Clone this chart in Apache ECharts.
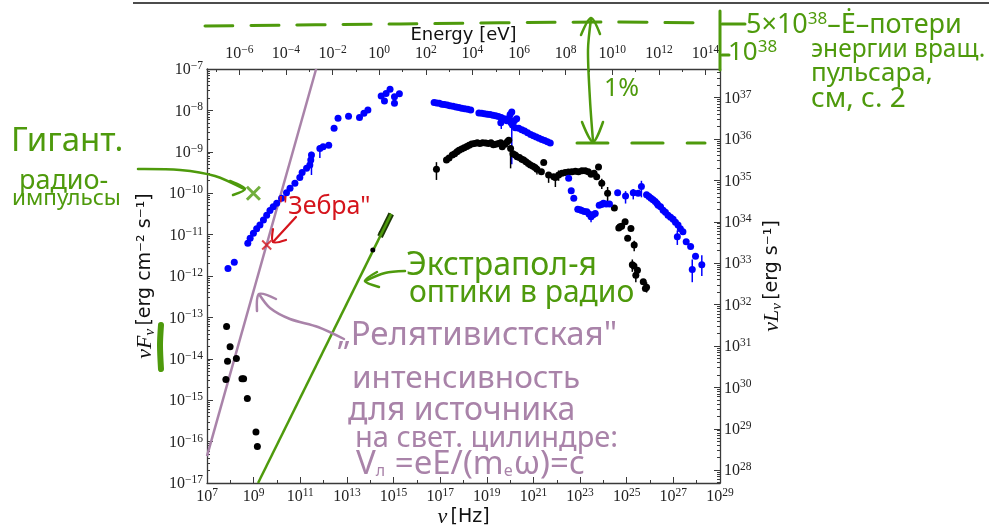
<!DOCTYPE html>
<html>
<head>
<meta charset="utf-8">
<script src="https://cdn.jsdelivr.net/npm/echarts@6.0.0/dist/echarts.min.js"></script>
<style>
  html, body { margin: 0; padding: 0; background: #fff; }
  #chart { width: 989px; height: 530px; }
</style>
</head>
<body>
<div id="chart"></div>
<script>
// all values are log10: nu in Hz, nuFnu in erg cm^-2 s^-1
const LOG_H_EV = Math.log10(4.1357e-15);  // E = h*nu, eV
const LOG_4PI_D2 = 44.69;                 // nuLnu = 4 pi d^2 nuFnu

// radio (black)
const radioNu = [7.84, 7.99, 7.88, 8.26, 7.81, 8.50, 8.57, 8.73, 9.10, 9.16];
const radioF  = [-13.22, -13.71, -14.06, -13.99, -14.50, -14.48, -14.48, -14.96, -15.77, -16.12];

// radio..UV (blue)
const optNu = [7.90, 8.17, 8.75, 8.85, 8.99, 9.13, 9.27, 9.42, 9.56, 9.70, 9.84, 9.99, 10.20, 10.41,
  10.56, 10.77, 10.98, 11.08, 11.27, 11.41, 11.45, 11.48, 11.84, 11.98, 12.22, 12.45, 12.62, 13.07,
  13.54, 13.73, 13.90, 14.47, 14.68, 14.85, 14.61, 15.04, 15.25, 15.04];
const optF = [-11.82, -11.67, -11.21, -11.09, -10.97, -10.86, -10.77, -10.65, -10.53, -10.42, -10.33,
  -10.24, -10.12, -9.99, -9.88, -9.76, -9.62, -9.50, -9.40, -9.32, -9.20, -9.08, -8.92, -8.88, -8.84,
  -8.43, -8.19, -8.14, -8.17, -8.07, -7.99, -7.65, -7.59, -7.49, -7.77, -7.83, -7.60, -7.67];

// X-ray, pulsed (blue)
const xBlueNu = [16.74, 16.85, 16.96, 17.07, 17.18, 17.30, 17.42, 17.55, 17.68, 17.80, 17.92, 18.05,
  18.18, 18.31, 18.66, 18.78, 18.90, 19.02, 19.14, 19.26, 19.38, 19.50, 19.60, 19.62, 19.74, 19.86,
  19.94, 20.00, 20.07, 20.04, 20.10, 20.18, 20.22, 20.28, 20.37, 20.50, 20.62, 20.75, 20.88, 21.00,
  21.12, 21.24, 21.36, 21.48, 21.60, 21.72];
const xBlueF = [-7.81, -7.82, -7.83, -7.85, -7.86, -7.87, -7.89, -7.90, -7.92, -7.93, -7.95, -7.96,
  -7.97, -7.99, -8.06, -8.07, -8.08, -8.09, -8.10, -8.12, -8.13, -8.15, -8.30, -8.17, -8.20, -8.25,
  -8.19, -8.10, -8.04, -8.30, -8.35, -8.25, -8.42, -8.20, -8.43, -8.47, -8.50, -8.54, -8.58, -8.61,
  -8.64, -8.67, -8.70, -8.73, -8.76, -8.79];

// X-ray to TeV (black)
const hiBlackNu = [16.84, 17.27, 17.38, 17.52, 17.62, 17.72, 17.81, 17.92, 18.03, 18.14, 18.24, 18.35,
  18.47, 18.59, 18.70, 18.82, 18.95, 19.07, 19.18, 19.28, 19.38, 19.50, 19.60, 19.66, 19.78, 19.88,
  19.94, 20.02, 20.12, 20.22, 20.30, 20.40, 20.50, 20.58, 20.68, 20.78, 20.87, 20.98, 21.07, 21.15,
  21.34, 21.44, 21.65, 21.87, 21.94, 22.08, 22.22, 22.36, 22.50, 22.65, 22.80, 22.93, 23.08, 23.22,
  23.35, 23.47, 23.60, 23.71, 23.79, 23.93, 24.18, 24.47, 24.66, 24.71, 24.78, 24.93, 25.04, 25.18,
  25.32, 25.24, 25.31, 25.46, 25.39, 25.71, 25.85, 25.80];
const hiBlackF = [-9.42, -9.20, -9.15, -9.08, -9.05, -9.00, -8.96, -8.93, -8.90, -8.87, -8.84, -8.81,
  -8.80, -8.78, -8.80, -8.78, -8.79, -8.80, -8.78, -8.83, -8.82, -8.80, -8.78, -8.88, -8.82, -8.76,
  -8.72, -8.92, -9.05, -9.08, -9.12, -9.14, -9.18, -9.20, -9.24, -9.28, -9.32, -9.35, -9.38, -9.42,
  -9.48, -9.26, -9.56, -9.60, -9.62, -9.56, -9.52, -9.50, -9.49, -9.48, -9.47, -9.48, -9.46, -9.46,
  -9.48, -9.54, -9.52, -9.60, -9.37, -9.76, -10.00, -10.36, -10.84, -10.81, -10.80, -10.69, -11.09,
  -10.85, -11.25, -11.73, -11.76, -11.86, -11.98, -12.14, -12.27, -12.30];

// gamma, pulsed (blue)
const gBlueNu = [22.51, 22.62, 22.73, 22.90, 23.00, 23.07, 23.18, 23.29, 23.38, 23.47, 23.56, 23.65,
  23.82, 23.92, 24.00, 24.12, 24.26, 24.61, 24.95, 25.28, 25.49, 25.63, 25.85, 25.95, 26.04, 26.13,
  26.22, 26.30, 26.35, 26.45, 26.56, 26.66, 26.77, 26.88, 26.99, 27.09, 27.20, 27.17, 27.30, 27.41,
  27.55, 27.74, 27.95, 27.81, 28.22];
const gBlueF = [-9.64, -9.94, -10.12, -10.39, -10.40, -10.42, -10.44, -10.45, -10.50, -10.57, -10.52,
  -10.49, -10.29, -10.27, -10.24, -10.26, -10.26, -9.99, -10.07, -9.99, -10.00, -9.84, -10.04, -10.08,
  -10.12, -10.16, -10.20, -10.25, -10.29, -10.33, -10.41, -10.46, -10.53, -10.58, -10.63, -10.70,
  -10.77, -11.05, -10.86, -10.93, -11.17, -11.29, -11.52, -11.84, -11.73];

// error bars: nu, low, high
const errBlueNu = [11.48, 11.84, 19.62, 20.07, 23.47, 24.95, 25.28, 25.63, 27.17, 27.81, 28.22];
const errBlueLo = [-9.56, -9.15, -8.45, -9.30, -10.70, -10.25, -10.15, -10.10, -11.25, -12.15, -12.00];
const errBlueHi = [-9.00, -8.84, -8.20, -8.00, -10.45, -9.95, -9.90, -9.70, -10.90, -11.60, -11.50];
const errBlackNu = [16.84, 20.02, 21.15, 21.65, 21.94, 22.08, 23.93, 24.18, 25.24, 25.32, 25.39, 25.85];
const errBlackLo = [-9.68, -9.40, -9.55, -9.75, -9.85, -9.70, -9.90, -10.20, -11.90, -11.40, -12.15, -12.40];
const errBlackHi = [-9.25, -8.85, -9.35, -9.50, -9.55, -9.45, -9.65, -9.85, -11.60, -11.15, -11.85, -12.15];

// ν² "relativistic intensity" line, optical extrapolation to radio, optical segment
const relNu = [7.0, 11.68];
const relF = [-16.35, -7.0];
const extrNu = [9.19, 14.90];
const extrF = [-17.0, -10.50];
const optSegNu = [14.42, 14.90];
const optSegF = [-11.05, -10.50];
const optDotNu = [14.11, 14.47];
const optDotF = [-11.37, -10.96];

// hand marks: giant radio pulses, "zebra"
const giantNu = [8.99], giantF = [-10.0];
const zebraNu = [9.56], zebraF = [-11.25];

const nuTicks = [7, 9, 11, 13, 15, 17, 19, 21, 23, 25, 27, 29];
const eTicks = [-6, -4, -2, 0, 2, 4, 6, 8, 10, 12, 14];
const fTicks = [-17, -16, -15, -14, -13, -12, -11, -10, -9, -8, -7];
const lTicks = [28, 29, 30, 31, 32, 33, 34, 35, 36, 37];

const zip = (a, b) => a.map((v, i) => [v, b[i]]);
const range = (a, b) => { const r = []; for (let i = a; i <= b; i++) r.push(i); return r; };
const minorLog = (a, b, lo, hi) => {
  const r = [];
  for (let n = a; n <= b; n++) for (let k = 2; k <= 9; k++) {
    const v = n + Math.log10(k);
    if (v > lo && v < hi) r.push(v);
  }
  return r;
};

const AX = '#3a3a3a';
const GREEN = '#4e9a0c';
const PURPLE = '#a983a9';
const RED = '#d5141c';
const HAND = 'Noto Sans';

function pow10(v) {
  const e = Math.round(v);
  return '{b|10}{s|' + (e < 0 ? '\u2212' + (-e) : e) + '}';
}
const tickRich = {
  b: { fontFamily: 'Liberation Serif', fontSize: 16, color: '#222', lineHeight: 18, verticalAlign: 'bottom' },
  s: { fontFamily: 'Liberation Serif', fontSize: 11.5, color: '#222', lineHeight: 18, verticalAlign: 'top', padding: [0, 0, 5, 0] }
};

const chart = echarts.init(document.getElementById('chart'));
const nuMin = 7, nuMax = 29, fMin = -17, fMax = -7;

function baseAxis(extra) {
  return Object.assign({
    type: 'value', splitLine: { show: false }, nameMoveOverlap: false,
    axisLine: { show: true, onZero: false, lineStyle: { color: AX, width: 1.3 } },
    axisTick: { inside: true, length: 6, lineStyle: { color: AX } },
    axisLabel: { formatter: pow10, rich: tickRich }
  }, extra);
}
function minorAxis(extra, values) {
  return Object.assign({
    type: 'value', splitLine: { show: false },
    axisLine: { show: false, onZero: false },
    axisTick: { inside: true, length: 3, customValues: values, lineStyle: { color: AX } },
    axisLabel: { show: false }
  }, extra);
}

function errSeries(nu, lo, hi, color) {
  return {
    type: 'custom', xAxisIndex: 0, yAxisIndex: 0, z: 2,
    data: nu.map((v, i) => [v, lo[i], hi[i]]),
    renderItem: (params, api) => {
      const p1 = api.coord([api.value(0), api.value(1)]);
      const p2 = api.coord([api.value(0), api.value(2)]);
      return { type: 'line', shape: { x1: p1[0], y1: p1[1], x2: p2[0], y2: p2[1] },
        style: { stroke: color, lineWidth: 1.5 } };
    }
  };
}
function dots(nu, f, color) {
  return { type: 'scatter', xAxisIndex: 0, yAxisIndex: 0, symbolSize: 7, z: 3,
    itemStyle: { color: color, opacity: 1 }, data: zip(nu, f) };
}
function line(nu, f, color, width, z) {
  return { type: 'line', xAxisIndex: 0, yAxisIndex: 0, showSymbol: false, symbol: 'none', z: z,
    lineStyle: { color: color, width: width }, data: zip(nu, f) };
}
const CROSS = 'path://M0,0L10,10M10,0L0,10';

// hand-drawn helpers (pixel annotations)
const hline = (pts, color, w, dash) => ({ type: 'polyline', z: 100,
  shape: { points: pts, smooth: 0.3 },
  style: { stroke: color, lineWidth: w, fill: null, lineDash: dash || null, lineCap: 'round', lineJoin: 'round' } });
const htext = (x, y, text, color, size, rich) => ({ type: 'text', x: x, y: y, z: 100,
  style: { text: text, fill: color, font: size + 'px "' + HAND + '"', textVerticalAlign: 'middle', rich: rich || undefined } });
const sup = (size, color) => ({ fontSize: size, fill: color, fontFamily: HAND, padding: [0, 0, 12, 0] });
const sub = (size, color) => ({ fontSize: size, fill: color, fontFamily: HAND, padding: [12, 1, 0, 0] });

const nameRich = {
  i: { fontFamily: 'Liberation Serif', fontStyle: 'italic', fontSize: 22, color: '#111' },
  sub: { fontFamily: 'Liberation Serif', fontStyle: 'italic', fontSize: 15, color: '#111', verticalAlign: 'bottom', lineHeight: 26 },
  n: { fontFamily: 'DejaVu Sans', fontSize: 19, color: '#111' }
};

chart.setOption({
  animation: false,
  backgroundColor: '#fff',
  grid: { left: 207, right: 269, top: 69, bottom: 47, containLabel: false, outerBoundsMode: 'none' },
  xAxis: [
    baseAxis({ position: 'bottom', min: nuMin, max: nuMax,
      name: '{i|ν} {n|[Hz]}', nameLocation: 'middle', nameGap: 23,
      nameTextStyle: { rich: nameRich },
      axisTick: { inside: true, length: 6, customValues: nuTicks, lineStyle: { color: AX } },
      axisLabel: { formatter: pow10, rich: tickRich, customValues: nuTicks, margin: 4 } }),
    baseAxis({ position: 'top', min: nuMin + LOG_H_EV, max: nuMax + LOG_H_EV,
      name: 'Energy [eV]', nameLocation: 'middle', nameGap: 25,
      nameTextStyle: { fontFamily: 'DejaVu Sans', fontSize: 18, color: '#111' },
      axisTick: { inside: true, length: 6, customValues: eTicks, lineStyle: { color: AX } },
      axisLabel: { formatter: pow10, rich: tickRich, customValues: eTicks, margin: 7 } }),
    minorAxis({ position: 'bottom', min: nuMin, max: nuMax }, range(8, 28).filter(v => v % 2 === 0)),
    minorAxis({ position: 'top', min: nuMin + LOG_H_EV, max: nuMax + LOG_H_EV }, range(-7, 14).filter(v => v % 2 !== 0))
  ],
  yAxis: [
    baseAxis({ position: 'left', min: fMin, max: fMax,
      name: '{i|νF}{sub|ν} {n|[erg cm⁻² s⁻¹]}', nameLocation: 'middle', nameGap: 49, nameRotate: 90,
      nameTextStyle: { rich: nameRich },
      axisTick: { inside: true, length: 6, customValues: fTicks, lineStyle: { color: AX } },
      axisLabel: { formatter: pow10, rich: tickRich, customValues: fTicks, margin: 4 } }),
    baseAxis({ position: 'right', min: fMin + LOG_4PI_D2, max: fMax + LOG_4PI_D2,
      name: '{i|νL}{sub|ν} {n|[erg s⁻¹]}', nameLocation: 'middle', nameGap: 39, nameRotate: 90,
      nameTextStyle: { rich: nameRich },
      axisTick: { inside: true, length: 6, customValues: lTicks, lineStyle: { color: AX } },
      axisLabel: { formatter: pow10, rich: tickRich, customValues: lTicks, margin: 4 } }),
    minorAxis({ position: 'left', min: fMin, max: fMax }, minorLog(-17, -8, fMin, fMax)),
    minorAxis({ position: 'right', min: fMin + LOG_4PI_D2, max: fMax + LOG_4PI_D2 },
      minorLog(27, 37, fMin + LOG_4PI_D2, fMax + LOG_4PI_D2))
  ],
  series: [
    line(relNu, relF, PURPLE, 2.5, 1),
    line(extrNu, extrF, GREEN, 2.5, 1),
    line(optSegNu, optSegF, '#1d3a05', 6, 4),
    line(optSegNu, optSegF, GREEN, 2.5, 5),
    errSeries(errBlueNu, errBlueLo, errBlueHi, '#0000ff'),
    errSeries(errBlackNu, errBlackLo, errBlackHi, '#000'),
    dots(radioNu, radioF, '#000'),
    dots(optNu, optF, '#0000ff'),
    dots(xBlueNu, xBlueF, '#0000ff'),
    dots(hiBlackNu, hiBlackF, '#000'),
    dots(gBlueNu, gBlueF, '#0000ff'),
    Object.assign(dots(optDotNu, optDotF, '#000'), { symbolSize: 5 }),
    { type: 'scatter', xAxisIndex: 0, yAxisIndex: 0, symbol: CROSS, symbolSize: 13, z: 6,
      itemStyle: { color: 'none', borderColor: GREEN, borderWidth: 3 }, data: zip(giantNu, giantF) },
    { type: 'scatter', xAxisIndex: 0, yAxisIndex: 0, symbol: CROSS, symbolSize: 9, z: 6,
      itemStyle: { color: 'none', borderColor: RED, borderWidth: 2 }, data: zip(zebraNu, zebraF) }
  ],
  graphic: [
    { type: 'line', shape: { x1: 133, y1: 3, x2: 989, y2: 3 }, style: { stroke: '#111', lineWidth: 1.5 } },
    // 5e38 and 1% levels
    hline([[205, 26], [400, 24], [600, 22], [706, 23]], GREEN, 3, [28, 18]),
    hline([[577, 143], [705, 143]], GREEN, 3, [31, 24]),
    hline([[720, 11], [720, 70]], GREEN, 3),
    hline([[722, 24], [745, 24]], GREEN, 3),
    hline([[722, 55], [729, 55]], GREEN, 3),
    hline([[591, 19], [588, 50], [590, 100], [593, 141]], GREEN, 2.5),
    hline([[581, 35], [591, 18], [600, 34]], GREEN, 2.5),
    hline([[582, 122], [593, 142], [603, 122]], GREEN, 2.5),
    htext(604, 89, '1%', GREEN, 25),
    htext(728, 53, '10{s|38}', GREEN, 26, { s: sup(17, GREEN) }),
    htext(746, 25, '5×10{s|38}–Ė–потери', GREEN, 27, { s: sup(17, GREEN) }),
    htext(811, 50, 'энергии вращ.', GREEN, 24.5),
    htext(811, 74, 'пульсара,', GREEN, 26),
    htext(811, 99, 'см, с. 2', GREEN, 28),
    // giant pulses
    htext(11, 142, 'Гигант.', GREEN, 33),
    htext(19, 181, 'радио-', GREEN, 27),
    htext(12, 199, 'импульсы', GREEN, 22.5),
    hline([[138, 169], [180, 170], [215, 176], [244, 189]], GREEN, 2.5),
    hline([[230, 181], [245, 189], [233, 195]], GREEN, 2.5),
    // zebra
    htext(278, 207, '"Зебра"', RED, 25),
    hline([[296, 217], [273, 242]], RED, 2.2),
    hline([[273, 229], [273, 242], [286, 240]], RED, 2.2),
    // optical extrapolation
    htext(406, 266, 'Экстрапол-я', GREEN, 32),
    htext(409, 293, 'оптики в радио', GREEN, 30),
    hline([[405, 271], [385, 273], [365, 281]], GREEN, 2.5),
    hline([[377, 272], [365, 281], [379, 287]], GREEN, 2.5),
    // relativistic intensity
    htext(337, 336, '„Релятивистская"', PURPLE, 33),
    htext(352, 379, 'интенсивность', PURPLE, 31.5),
    htext(348, 411, 'для источника', PURPLE, 32),
    htext(355, 439, 'на свет. цилиндре:', PURPLE, 29),
    htext(356, 465, 'V{sb|л} =eE/(m{sb|e}ω)=c', PURPLE, 33, { sb: sub(16, PURPLE) }),
    hline([[344, 339], [318, 327], [290, 319], [270, 308], [259, 294]], PURPLE, 2.5),
    hline([[257, 311], [259, 294], [276, 299]], PURPLE, 2.5),
    // mark at axis title
    hline([[161, 325], [160, 345], [161, 369]], GREEN, 6)
  ]
});
</script>
</body>
</html>
